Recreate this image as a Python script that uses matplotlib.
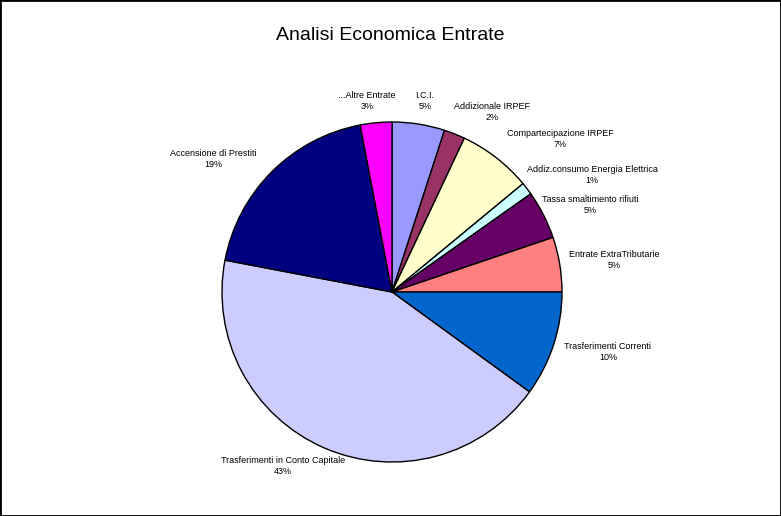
import matplotlib.pyplot as plt
from matplotlib.patches import Rectangle

plt.rcParams['font.family'] = ['Liberation Sans', 'DejaVu Sans']

# slices, clockwise from 12 o'clock
categories = ['I.C.I.', 'Addizionale IRPEF', 'Compartecipazione IRPEF',
              'Addiz.consumo Energia Elettrica', 'Tassa smaltimento rifiuti',
              'Entrate ExtraTributarie', 'Trasferimenti Correnti',
              'Trasferimenti in Conto Capitale', 'Accensione di Prestiti',
              '...Altre Entrate']
values = [5.0, 2.0, 7.0, 1.2, 4.6, 5.2, 10.0, 43.0, 19.0, 3.0]
pct_labels = ['5%', '2%', '7%', '1%', '5%', '5%', '10%', '43%', '19%', '3%']
colors = ['#9999FF', '#993366', '#FFFFCC', '#CCFFFF', '#660066',
          '#FF8080', '#0066CC', '#CCCCFF', '#000080', '#FF00FF']

# label centres, pixel offsets from pie centre (x right, y down)
label_off = [(33, -191), (100, -180), (168, -153), (200, -117), (198, -87),
             (222, -32), (216, 60), (-109, 174), (-179, -133), (-25, -191)]

W, H = 781, 516
fig = plt.figure(figsize=(W / 100, H / 100), dpi=100)
cx, cy, r = 392, 292, 170
ax = fig.add_axes([(cx - r) / W, (H - cy - r) / H, 2 * r / W, 2 * r / H])
ax.pie(values, colors=colors, startangle=90, counterclock=False, radius=1,
       wedgeprops=dict(edgecolor='black', linewidth=1))
ax.set_xlim(-1, 1)
ax.set_ylim(-1, 1)
ax.set_aspect('equal')
ax.axis('off')

for name, pct, (dx, dy) in zip(categories, pct_labels, label_off):
    ax.text(dx / r, -dy / r, name + '\n' + pct, ha='center', va='center',
            fontsize=6.5, linespacing=1.25, clip_on=False)

fig.text(390 / W, 1 - 35 / H, 'Analisi Economica Entrate', ha='center',
         va='center', fontsize=14)

fig.add_artist(Rectangle((0, 0), 1, 1, transform=fig.transFigure,
                         fill=False, edgecolor='black', linewidth=2))

fig.savefig('out.png', dpi=100)
